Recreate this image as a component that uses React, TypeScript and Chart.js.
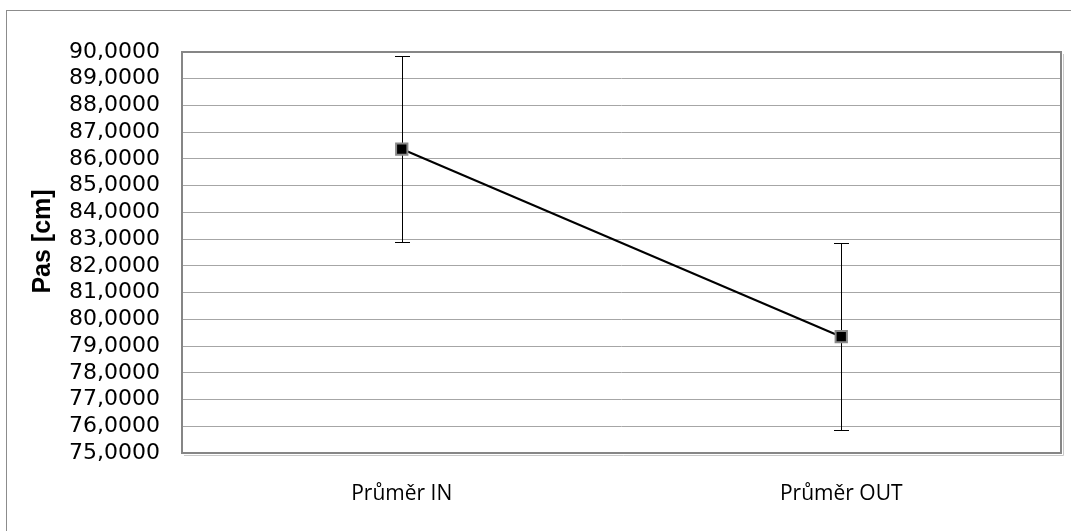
import React, { useEffect, useRef } from "react";
import { Chart, registerables } from "chart.js";

Chart.register(...registerables);

const categories = ["Průměr IN", "Průměr OUT"];
const means = [86.37, 79.35];
const errors = [3.49, 3.5];
const yMin = 75;
const yMax = 90;
const yStep = 1;
const yTitle = "Pas [cm]";

const frame = {
  id: "frame",
  beforeDraw(chart: any) {
    const ctx = chart.ctx;
    ctx.save();
    ctx.fillStyle = "#ffffff";
    ctx.fillRect(0, 0, chart.width, chart.height);
    ctx.strokeStyle = "#8c8c8c";
    ctx.lineWidth = 1;
    ctx.strokeRect(6.5, 10.5, 3000, 3000);
    ctx.restore();
  },
  afterDraw(chart: any) {
    const { ctx, chartArea } = chart;
    ctx.save();
    ctx.strokeStyle = "#c8c8c8";
    ctx.lineWidth = 1;
    ctx.beginPath();
    ctx.moveTo(chartArea.left + 2, chartArea.bottom + 2.5);
    ctx.lineTo(chartArea.right + 2.5, chartArea.bottom + 2.5);
    ctx.lineTo(chartArea.right + 2.5, chartArea.top + 2);
    ctx.stroke();
    ctx.strokeStyle = "#868686";
    ctx.lineWidth = 2;
    ctx.strokeRect(chartArea.left, chartArea.top, chartArea.right - chartArea.left, chartArea.bottom - chartArea.top);
    ctx.translate(43.5, 241.5);
    ctx.rotate(-Math.PI / 2);
    ctx.font = "bold 25px 'Liberation Sans', Arial, sans-serif";
    ctx.fillStyle = "#000000";
    ctx.textAlign = "center";
    ctx.textBaseline = "middle";
    ctx.fillText(yTitle, 0, 0);
    ctx.restore();
  },
};

const errorBars = {
  id: "errorBars",
  beforeDatasetsDraw(chart: any) {
    const { ctx } = chart;
    const xs = chart.scales.x;
    const ys = chart.scales.y;
    ctx.save();
    ctx.strokeStyle = "#000000";
    ctx.lineWidth = 1;
    means.forEach((m, i) => {
      const x = Math.round(xs.getPixelForValue(i)) + 0.5;
      const yt = Math.round(ys.getPixelForValue(m + errors[i])) + 0.5;
      const yb = Math.round(ys.getPixelForValue(m - errors[i])) + 0.5;
      ctx.beginPath();
      ctx.moveTo(x, yt);
      ctx.lineTo(x, yb);
      ctx.moveTo(x - 7.5, yt);
      ctx.lineTo(x + 7.5, yt);
      ctx.moveTo(x - 7.5, yb);
      ctx.lineTo(x + 7.5, yb);
      ctx.stroke();
    });
    ctx.restore();
  },
};

export default function App() {
  const ref = useRef<HTMLCanvasElement>(null);
  useEffect(() => {
    if (!ref.current) return;
    const chart = new Chart(ref.current, {
      type: "line",
      data: {
        labels: categories,
        datasets: [
          {
            data: means,
            borderColor: "#000000",
            borderWidth: 2,
            pointStyle: "rect",
            pointRadius: 8,
            pointBackgroundColor: "#000000",
            pointBorderColor: "#8a8a8a",
            pointBorderWidth: 2,
            tension: 0,
          },
        ],
      },
      options: {
        responsive: false,
        animation: false,
        layout: { padding: { top: 52, right: 7, left: 0, bottom: 0 } },
        plugins: { legend: { display: false }, tooltip: { enabled: false } },
        scales: {
          x: {
            offset: true,
            grid: { display: false, drawTicks: false },
            border: { display: false },
            ticks: {
              color: "#000000",
              padding: 28,
              font: { family: "'Open Sans', sans-serif", size: 21 },
            },
            afterFit(scale: any) {
              scale.height = 78;
            },
          },
          y: {
            min: yMin,
            max: yMax,
            grid: { color: "#a6a6a6", lineWidth: 1, drawTicks: false },
            border: { display: false },
            ticks: {
              stepSize: yStep,
              autoSkip: false,
              color: "#000000",
              padding: 22,
              font: { family: "'DejaVu Sans', sans-serif", size: 22 },
              callback: (v: any) => Number(v).toFixed(4).replace(".", ","),
            },
            afterFit(scale: any) {
              scale.width = 182;
            },
          },
        },
      },
      plugins: [frame, errorBars],
    });
    return () => chart.destroy();
  }, []);
  return (
    <div style={{ position: "fixed", left: 0, top: 0, width: 1071, height: 531, overflow: "hidden" }}>
      <canvas ref={ref} width={1071} height={531} style={{ display: "block", width: 1071, height: 531 }} />
    </div>
  );
}
